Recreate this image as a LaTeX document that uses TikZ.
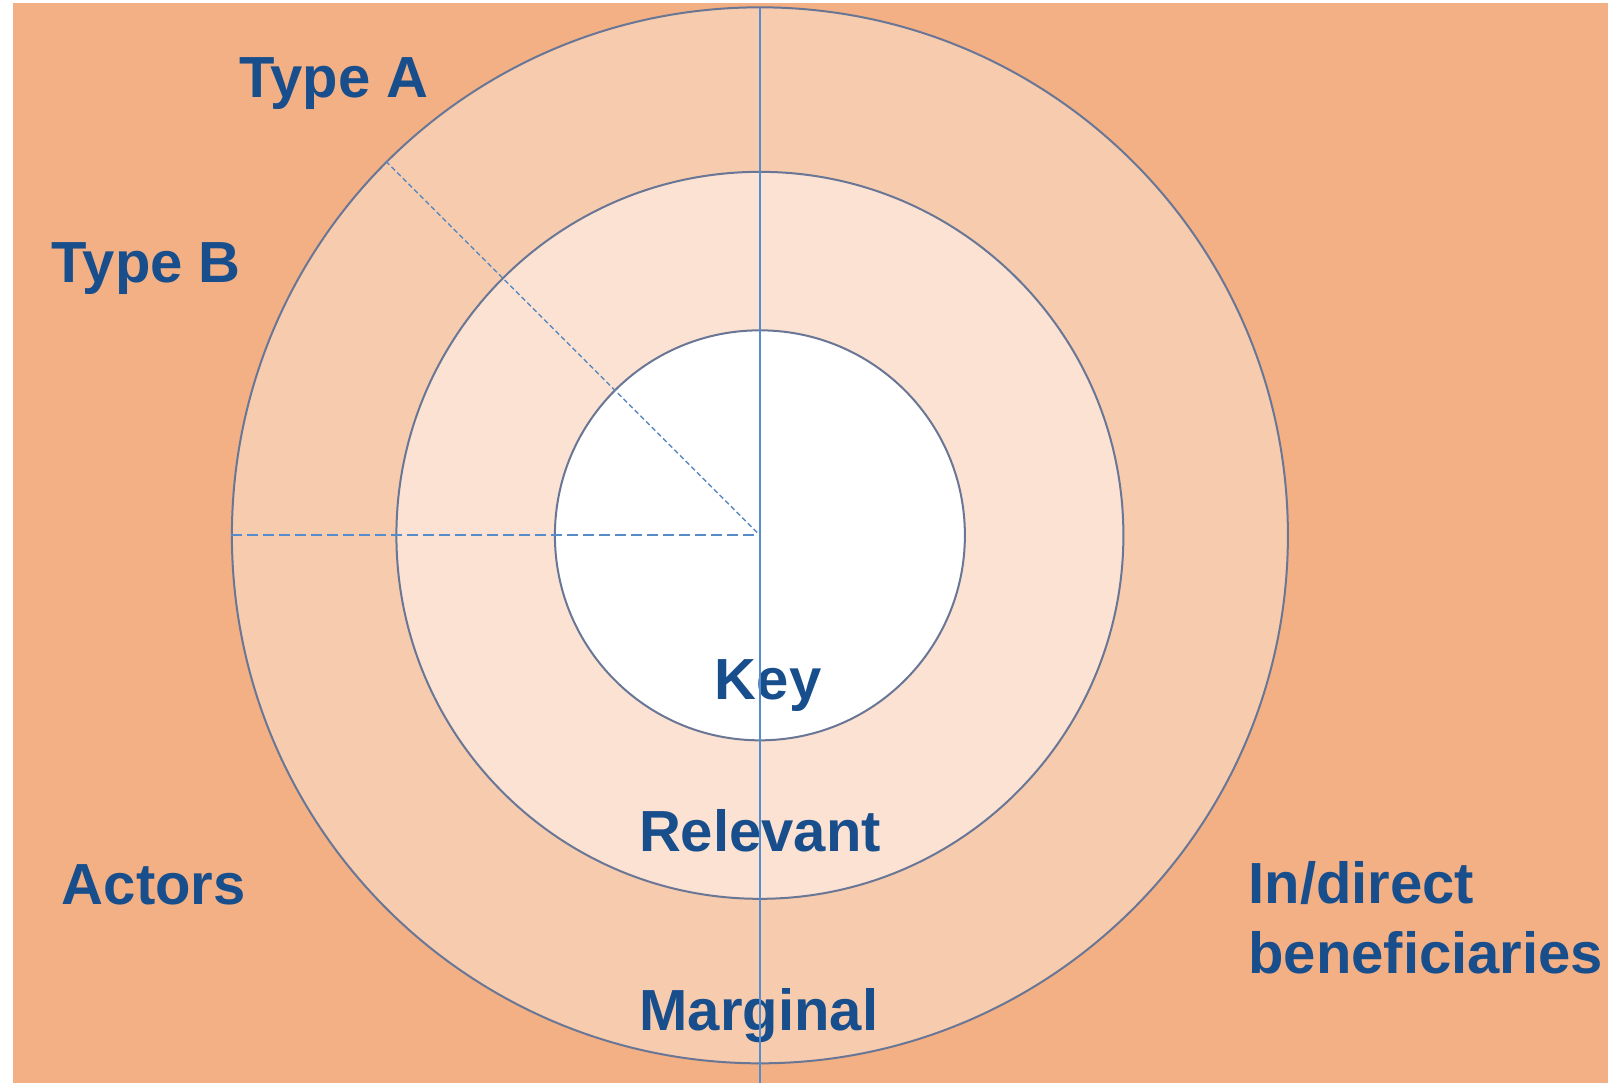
\documentclass[tikz,border=0pt]{standalone}
\usepackage{fontspec}
\setmainfont{Liberation Sans}
\definecolor{bgorange}{RGB}{242,176,132}
\definecolor{ringouter}{RGB}{247,204,174}
\definecolor{ringmid}{RGB}{251,226,210}
\definecolor{edgecol}{RGB}{105,118,150}
\definecolor{axisblue}{RGB}{84,140,204}
\definecolor{txtblue}{RGB}{24,78,140}
\begin{document}
\begin{tikzpicture}[x=0.51276pt,y=-0.51276pt,
  ring/.style={circle, draw=edgecol, line width=1pt, inner sep=0pt},
  lbl/.style={anchor=base west, inner sep=0pt, text=txtblue,
    font=\fontsize{29}{34.8}\selectfont\bfseries},
  lblc/.style={lbl, anchor=base},
  axisline/.style={draw=axisblue, line width=1pt},
  dashline/.style={draw=axisblue, line width=0.9pt, dash pattern=on 5.5pt off 2.5pt},
  dotline/.style={draw=axisblue!85!gray, line width=0.7pt, dash pattern=on 2.5pt off 1.5pt}]
\useasboundingbox (0,0) rectangle (1568,1056);
\fill[white] (0,0) rectangle (1568,1056);
\fill[bgorange] (13,3) rectangle (1568,1056);
\coordinate (c) at (741,522);
\node[ring, fill=ringouter, minimum size=528pt] (outer) at (c) {};
\node[ring, fill=ringmid, minimum size=363.5pt] (mid) at (c) {};
\node[ring, fill=white, minimum size=205pt] (inner) at (c) {};
% labels
\node[lbl] (typeA) at (233,95) {Type A};
\node[lbl] (typeB) at (50,275) {Type B};
\node[lblc] (key) at (749,682) {Key};
\node[lblc] (rel) at (741,830) {Relevant};
\node[lblc] (marg) at (740,1005) {Marginal};
\node[lbl] (actors) at (60,882) {Actors};
\node[lbl, align=left, anchor=north west] (benef) at (1217,840) {In/direct\\beneficiaries};
% axes
\coordinate (vtop) at (741,8);
\coordinate (vbot) at (741,1056);
\draw[axisline] (vtop) -- (vbot);
\draw[dashline] (outer.west) -- (c);
\draw[dotline] (outer.135) -- (c);
\end{tikzpicture}
\end{document}
